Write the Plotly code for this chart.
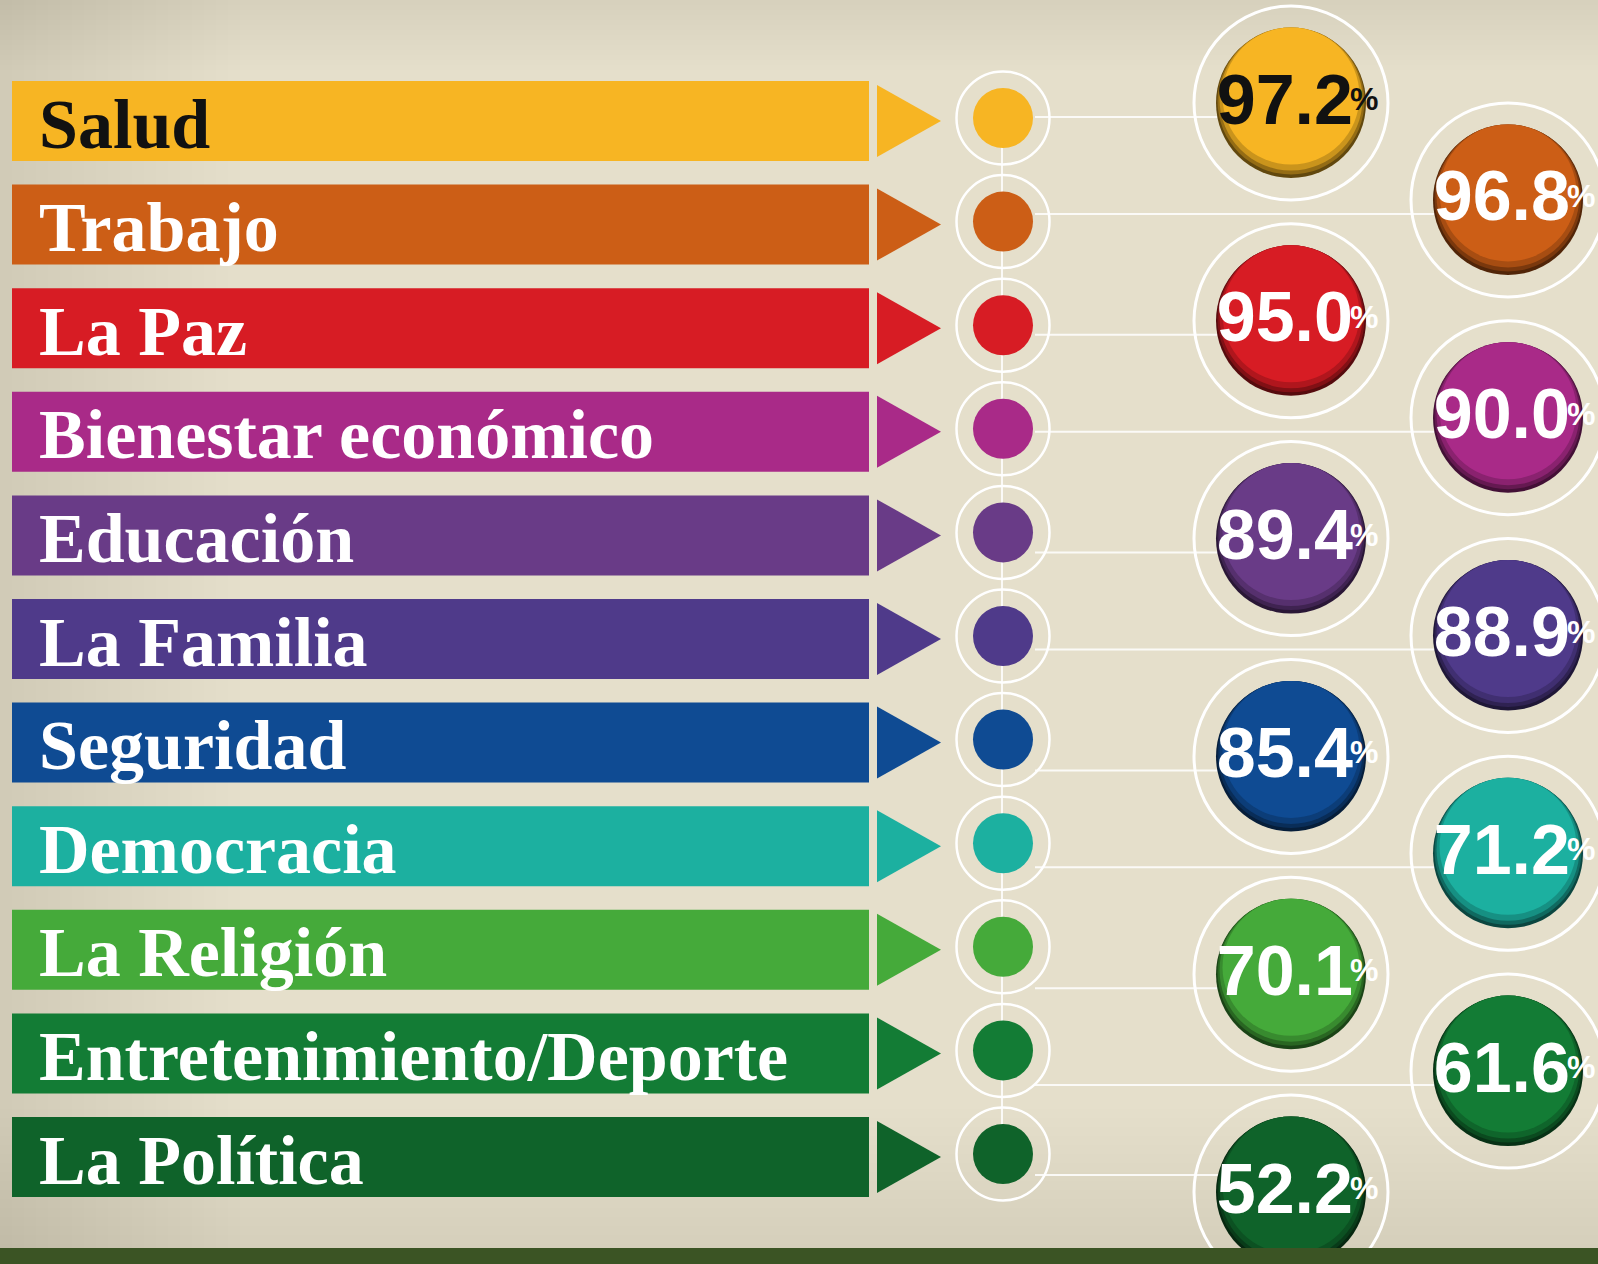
import plotly.graph_objects as go

categories = ["Salud", "Trabajo", "La Paz", "Bienestar económico", "Educación",
              "La Familia", "Seguridad", "Democracia", "La Religión",
              "Entretenimiento/Deporte", "La Política"]
values = [97.2, 96.8, 95.0, 90.0, 89.4, 88.9, 85.4, 71.2, 70.1, 61.6, 52.2]
colors = ["#f7b523", "#cc5e16", "#d71c24", "#a92a88", "#693b87", "#4f3a8a",
          "#0f4b93", "#1cb0a0", "#45aa3a", "#137c35", "#0f632a"]
text_colors = ["#111111"] + ["#ffffff"] * 10

W, H = 1598, 1264
n = len(categories)

# page geometry (pixels, axes are 1:1 with the page)
row_y = [121 + 103.6 * i for i in range(n)]
bub_x = [1291 if i % 2 == 0 else 1508 for i in range(n)]
bub_y = [103 + 108.9 * i - (12 if i % 2 else 0) for i in range(n)]
dot_x = 1003


def shade(hexcol, f):
    h = hexcol.lstrip("#")
    r, g, b = (int(h[k:k + 2], 16) for k in (0, 2, 4))
    return "rgb(%d,%d,%d)" % (r * f, g * f, b * f)


fig = go.Figure()

# label bars
fig.add_trace(go.Bar(
    x=[857] * n, y=row_y, base=12, orientation="h", width=80,
    marker=dict(color=colors, line=dict(width=0)), hoverinfo="skip"))

# arrow heads
for y, c in zip(row_y, colors):
    fig.add_trace(go.Scatter(
        x=[877, 877, 941, 877], y=[y - 36, y + 36, y, y - 36],
        mode="lines", line=dict(width=0), fill="toself", fillcolor=c,
        hoverinfo="skip"))

# labels
fig.add_trace(go.Scatter(
    x=[39] * n, y=[y + 9 for y in row_y], mode="text", text=categories,
    textposition="middle right",
    textfont=dict(family="Liberation Serif, DejaVu Serif", size=70,
                  weight="bold", color=text_colors),
    hoverinfo="skip"))

# small dots with rings
fig.add_trace(go.Scatter(
    x=[dot_x] * n, y=[y - 3 for y in row_y], mode="markers",
    marker=dict(size=93, color="rgba(0,0,0,0)",
                line=dict(color="white", width=2.5)),
    hoverinfo="skip"))
fig.add_trace(go.Scatter(
    x=[dot_x] * n, y=[y - 3 for y in row_y], mode="markers",
    marker=dict(size=60, color=colors, line=dict(width=0)),
    hoverinfo="skip"))

# big bubbles
fig.add_trace(go.Scatter(
    x=bub_x, y=bub_y, mode="markers",
    marker=dict(size=194, color="rgba(0,0,0,0)",
                line=dict(color="white", width=3)),
    hoverinfo="skip"))
fig.add_trace(go.Scatter(
    x=bub_x, y=bub_y, mode="markers",
    marker=dict(size=150, color=[shade(c, 0.4) for c in colors],
                line=dict(width=0)),
    hoverinfo="skip"))
fig.add_trace(go.Scatter(
    x=bub_x, y=[y - 2 for y in bub_y], mode="markers",
    marker=dict(size=147, color=[shade(c, 0.6) for c in colors],
                line=dict(width=0)),
    hoverinfo="skip"))
fig.add_trace(go.Scatter(
    x=bub_x, y=[y - 4 for y in bub_y], mode="markers",
    marker=dict(size=143, color=[shade(c, 0.82) for c in colors],
                line=dict(width=0)),
    hoverinfo="skip"))
fig.add_trace(go.Scatter(
    x=bub_x, y=[y - 7 for y in bub_y], mode="markers",
    marker=dict(size=137, color=colors, line=dict(width=0)),
    hoverinfo="skip"))

# values
num_font = "Liberation Sans, Arial"
fig.add_trace(go.Scatter(
    x=[x + 62 for x in bub_x], y=[y + 3 for y in bub_y], mode="text",
    text=["%.1f" % v for v in values], textposition="middle left",
    textfont=dict(family=num_font, size=70, weight="bold", color=text_colors),
    hoverinfo="skip"))
fig.add_trace(go.Scatter(
    x=[x + 59 for x in bub_x], y=[y - 1 for y in bub_y], mode="text",
    text=["%"] * n, textposition="middle right",
    textfont=dict(family=num_font, size=32, weight="bold", color=text_colors),
    hoverinfo="skip"))

shapes = []
# background shading: a little darker toward the left, top and bottom
for k in range(20):
    shapes.append(dict(type="rect", xref="x", yref="y", layer="below",
                       x0=0, x1=12 + 12 * k, y0=0, y1=H, line_width=0,
                       fillcolor="rgba(175,150,112,0.009)"))
for k in range(16):
    shapes.append(dict(type="rect", xref="x", yref="y", layer="below",
                       x0=0, x1=W, y0=H - 20 - 9 * k, y1=H, line_width=0,
                       fillcolor="rgba(175,150,112,0.008)"))
for k in range(14):
    shapes.append(dict(type="rect", xref="x", yref="y", layer="below",
                       x0=0, x1=W, y0=0, y1=5 + 5 * k, line_width=0,
                       fillcolor="rgba(185,165,130,0.006)"))

# connector lines
shapes.append(dict(type="line", xref="x", yref="y", layer="below",
                   x0=dot_x - 1, x1=dot_x - 1, y0=row_y[0], y1=row_y[-1],
                   line=dict(color="rgba(255,255,255,0.85)", width=2)))
for bx, by in zip(bub_x, bub_y):
    ly = min(by + 14, 1175)
    shapes.append(dict(type="line", xref="x", yref="y", layer="below",
                       x0=dot_x + 32, x1=bx, y0=ly, y1=ly,
                       line=dict(color="rgba(255,255,255,0.85)", width=2)))

# bottom strip
shapes.append(dict(type="rect", xref="x", yref="y", layer="above",
                   x0=0, x1=W, y0=1248, y1=H, line_width=0,
                   fillcolor="#3b5424"))

fig.update_layout(
    width=W, height=H, margin=dict(l=0, r=0, t=0, b=0),
    paper_bgcolor="#e5dfcb", plot_bgcolor="rgba(0,0,0,0)",
    showlegend=False, shapes=shapes,
    xaxis=dict(range=[0, W], visible=False, fixedrange=True),
    yaxis=dict(range=[H, 0], visible=False, fixedrange=True),
)

fig.write_html("out.html", config={"displayModeBar": False},
               post_script="document.body.style.margin='0';"
                           "document.body.style.overflow='hidden';")
